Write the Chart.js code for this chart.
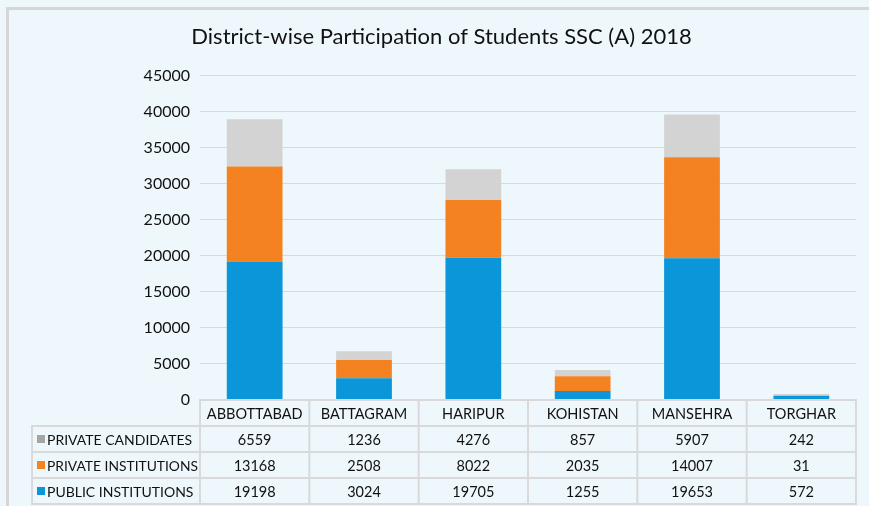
<!DOCTYPE html>
<html lang="en">
<head>
    <meta charset="UTF-8">
    <title>District-wise Participation of Students SSC (A) 2018</title>
    <script src="https://cdn.jsdelivr.net/npm/chart.js"></script>
    <style>
        html, body { margin: 0; padding: 0; background: #eef8fc; }
        #wrap { width: 869px; height: 506px; position: relative; }
    </style>
</head>
<body>
    <div id="wrap">
        <canvas id="sscChart" width="869" height="506"></canvas>
    </div>

    <script>
        // dados
        const districts = ['ABBOTTABAD', 'BATTAGRAM', 'HARIPUR', 'KOHISTAN', 'MANSEHRA', 'TORGHAR'];
        const publicInstitutions = [19198, 3024, 19705, 1255, 19653, 572];
        const privateInstitutions = [13168, 2508, 8022, 2035, 14007, 31];
        const privateCandidates = [6559, 1236, 4276, 857, 5907, 242];
        const yTicks = [0, 5000, 10000, 15000, 20000, 25000, 30000, 35000, 40000, 45000];

        const FONT = 'Lato, "Open Sans", sans-serif';

        // rows of the table under the chart (top to bottom)
        const tableRows = [
            { label: 'PRIVATE CANDIDATES', values: privateCandidates, swatch: '#a5a5a5' },
            { label: 'PRIVATE INSTITUTIONS', values: privateInstitutions, swatch: '#f58220' },
            { label: 'PUBLIC INSTITUTIONS', values: publicInstitutions, swatch: '#0a96d9' }
        ];

        // fundo + moldura
        const framePlugin = {
            id: 'frame',
            beforeDraw(chart) {
                const c = chart.ctx;
                c.save();
                c.fillStyle = '#eef8fc';
                c.fillRect(0, 0, chart.width, chart.height);
                c.strokeStyle = '#d6d6d6';
                c.lineWidth = 3;
                c.beginPath();
                c.moveTo(7.5, chart.height);
                c.lineTo(7.5, 8.5);
                c.lineTo(chart.width, 8.5);
                c.stroke();
                c.restore();
            }
        };

        // tabela de dados
        const tablePlugin = {
            id: 'dataTable',
            afterDraw(chart) {
                const c = chart.ctx;
                const x = chart.scales.x;
                const area = chart.chartArea;
                const colW = (area.right - area.left) / districts.length;
                const rowH = 26;
                const top = area.bottom;
                const labelLeft = 32;

                c.save();
                c.strokeStyle = '#d9d9d9';
                c.lineWidth = 2;
                c.font = '14.5px ' + FONT;
                c.fillStyle = '#111';
                c.textBaseline = 'middle';

                // header row
                c.strokeRect(area.left, top, area.right - area.left, rowH);
                c.textAlign = 'center';
                districts.forEach((d, i) => {
                    const cx = x.getPixelForValue(i);
                    c.fillText(d, cx, top + rowH / 2 + 1);
                });

                // data rows
                tableRows.forEach((row, r) => {
                    const y0 = top + rowH * (r + 1);
                    c.strokeRect(labelLeft, y0, area.right - labelLeft, rowH);
                    c.fillStyle = row.swatch;
                    c.fillRect(labelLeft + 5, y0 + 9, 8, 8);
                    c.fillStyle = '#111';
                    c.textAlign = 'left';
                    c.font = '14px ' + FONT;
                    c.fillText(row.label, labelLeft + 15, y0 + rowH / 2 + 1, area.left - labelLeft - 17);
                    c.font = '14.5px ' + FONT;
                    c.textAlign = 'center';
                    row.values.forEach((v, i) => {
                        c.fillText(String(v), x.getPixelForValue(i), y0 + rowH / 2 + 1);
                    });
                });

                // vertical separators
                c.beginPath();
                for (let i = 0; i <= districts.length; i++) {
                    const vx = area.left + colW * i;
                    c.moveTo(vx, top);
                    c.lineTo(vx, top + rowH * 4);
                }
                c.stroke();
                c.restore();
            }
        };

        window.onload = function () {
            const ctx = document.getElementById('sscChart').getContext('2d');
            new Chart(ctx, {
                type: 'bar',
                data: {
                    labels: districts,
                    datasets: [
                        { label: 'PUBLIC INSTITUTIONS', data: publicInstitutions, backgroundColor: '#0a96d9' },
                        { label: 'PRIVATE INSTITUTIONS', data: privateInstitutions, backgroundColor: '#f58220' },
                        { label: 'PRIVATE CANDIDATES', data: privateCandidates, backgroundColor: '#d3d3d3' }
                    ]
                },
                options: {
                    responsive: false,
                    animation: false,
                    layout: { padding: { top: 0, right: 13, bottom: 106, left: 27 } },
                    datasets: { bar: { categoryPercentage: 1, barPercentage: 0.51 } },
                    scales: {
                        x: {
                            stacked: true,
                            display: false
                        },
                        y: {
                            stacked: true,
                            min: 0,
                            max: 45000,
                            afterFit(scale) { scale.width = 173; },
                            afterBuildTicks(scale) { scale.ticks = yTicks.map(v => ({ value: v })); },
                            border: { display: false },
                            grid: { color: '#d9d9d9', lineWidth: 1, drawTicks: false },
                            ticks: {
                                padding: 10,
                                color: '#111',
                                font: { family: FONT, size: 16 },
                                callback: function (value) {
                                    return String(value);
                                }
                            }
                        }
                    },
                    plugins: {
                        legend: { display: false },
                        tooltip: { enabled: false },
                        title: {
                            display: true,
                            text: 'District-wise Participation of Students SSC (A) 2018',
                            color: '#111',
                            font: { family: FONT, size: 22, weight: 'normal' },
                            padding: { top: 24, bottom: 25 }
                        }
                    }
                },
                plugins: [framePlugin, tablePlugin]
            });
        };
    </script>
</body>
</html>
